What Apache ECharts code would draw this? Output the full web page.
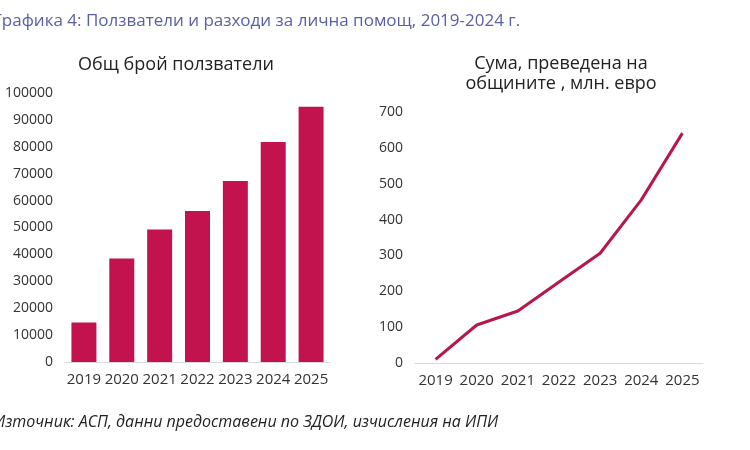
<!DOCTYPE html>
<html>
<head>
<meta charset="utf-8">
<script src="https://cdn.jsdelivr.net/npm/echarts@6/dist/echarts.min.js"></script>
<style>
  html, body { margin: 0; padding: 0; background: #fff; }
  #main { width: 750px; height: 450px; }
</style>
</head>
<body>
<div id="main"></div>
<script>
// години
var years = ['2019', '2020', '2021', '2022', '2023', '2024', '2025'];
// общ брой ползватели
var users = [14700, 38500, 49300, 56100, 67300, 81800, 94900];
// сума, преведена на общините, млн. евро
var amount = [10, 106, 145, 226, 306, 455, 641];

var barColor = '#c2134f';
var lineColor = '#b8164f';
var font = 'Open Sans';

var myChart = echarts.init(document.getElementById('main'));
var option = {
    backgroundColor: '#fff',
    textStyle: { fontFamily: font },
    title: [{
        text: 'Графика 4: Ползватели и разходи за лична помощ, 2019-2024 г.',
        left: -12, top: 8,
        textStyle: { color: '#5a5fa6', fontSize: 17, fontWeight: 'normal', fontFamily: font }
    }, {
        text: 'Общ брой ползватели',
        left: 171, top: 51, textAlign: 'center',
        textStyle: { color: '#222', fontSize: 18, fontWeight: 'normal', fontFamily: font }
    }, {
        text: 'Сума, преведена на\nобщините , млн. евро',
        left: 556, top: 49, textAlign: 'center',
        textStyle: { color: '#222', fontSize: 18, fontWeight: 'normal', lineHeight: 20, fontFamily: font }
    }, {
        text: 'Източник: АСП, данни предоставени по ЗДОИ, изчисления на ИПИ',
        left: -11, top: 409,
        textStyle: { color: '#222', fontSize: 16, fontWeight: 'normal', fontStyle: 'italic', fontFamily: font }
    }],
    grid: [
        { left: 65, width: 265, top: 93, height: 269 },
        { left: 415, width: 288, top: 112, height: 251 }
    ],
    xAxis: [{
        type: 'category', gridIndex: 0, data: years,
        axisLine: { lineStyle: { color: '#d9d9d9' } },
        axisTick: { show: false },
        axisLabel: { color: '#333', fontSize: 15, margin: 10, interval: 0 }
    }, {
        type: 'category', gridIndex: 1, data: years, boundaryGap: true,
        axisLine: { lineStyle: { color: '#d9d9d9' } },
        axisTick: { show: false },
        axisLabel: { color: '#333', fontSize: 15, margin: 10, interval: 0 }
    }],
    yAxis: [{
        type: 'value', gridIndex: 0, min: 0, max: 100000, interval: 10000,
        splitLine: { show: false },
        axisLabel: { color: '#333', fontSize: 14, margin: 12, formatter: function (v) { return String(v); } }
    }, {
        type: 'value', gridIndex: 1, min: 0, max: 700, interval: 100,
        splitLine: { show: false },
        axisLabel: { color: '#333', fontSize: 14, margin: 12 }
    }],
    series: [{
        name: 'Общ брой ползватели',
        type: 'bar',
        xAxisIndex: 0, yAxisIndex: 0,
        data: users,
        barCategoryGap: '34%',
        itemStyle: { color: barColor },
        silent: true
    }, {
        name: 'Сума',
        type: 'line',
        xAxisIndex: 1, yAxisIndex: 1,
        data: amount,
        symbol: 'none',
        lineStyle: { color: lineColor, width: 3 },
        silent: true
    }]
};
myChart.setOption(option);
</script>
</body>
</html>
